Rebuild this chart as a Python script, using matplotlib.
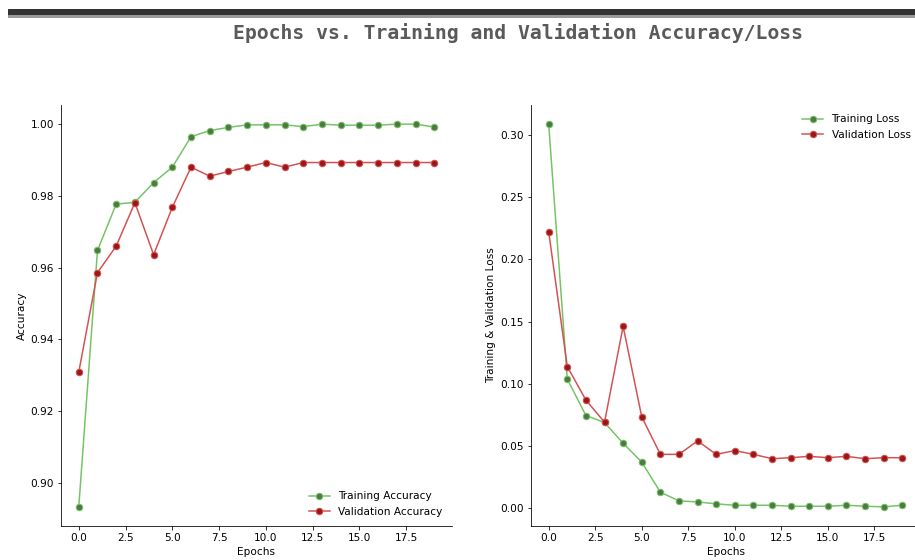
import matplotlib.pyplot as plt
import matplotlib.patches as patches
import numpy as np

# values
epochs = list(range(20))
train_acc = [0.8933, 0.9648, 0.9777, 0.9782, 0.9837, 0.9880, 0.9965, 0.9982, 0.9991, 0.9998,
             0.9998, 0.9998, 0.9993, 1.0000, 0.9997, 0.9997, 0.9997, 1.0000, 1.0000, 0.9992]
val_acc = [0.9309, 0.9586, 0.9660, 0.9781, 0.9636, 0.9768, 0.9880, 0.9855, 0.9868, 0.9880,
           0.9893, 0.9880, 0.9893, 0.9893, 0.9893, 0.9893, 0.9893, 0.9893, 0.9893, 0.9893]
train_loss = [0.3086, 0.1038, 0.0745, 0.0689, 0.0522, 0.0371, 0.0129, 0.0059, 0.0051, 0.0035,
              0.0024, 0.0024, 0.0024, 0.0016, 0.0016, 0.0016, 0.0024, 0.0016, 0.0011, 0.0024]
val_loss = [0.2222, 0.1138, 0.0869, 0.0691, 0.1461, 0.0734, 0.0433, 0.0433, 0.0541, 0.0433,
            0.0463, 0.0433, 0.0398, 0.0406, 0.0417, 0.0406, 0.0417, 0.0398, 0.0406, 0.0406]

colors_dark = ['#1F1F1F', '#313131', '#636363', '#AEAEAE', '#DADADA']
colors_red = ['#331313', '#582626', '#9E1717', '#D35151', '#E9B4B4']
colors_green = ['#01411C', '#4B6F44', '#4F7942', '#74C365', '#D0F0C0']

plt.rcParams['font.size'] = 10.5

fig = plt.figure(figsize=(915 / 72, 560 / 72), dpi=72)

# dark strip at the very top (left over from the notebook cell above)
fig.patches.append(patches.Rectangle((8 / 915, 1 - 15 / 560), 907 / 915, 6 / 560,
                                     transform=fig.transFigure, color='#333333', zorder=5))
fig.patches.append(patches.Rectangle((8 / 915, 1 - 16.5 / 560), 907 / 915, 1.5 / 560,
                                     transform=fig.transFigure, color='#9a9a9a', zorder=5))

fig.text(233 / 915, 1 - 33 / 560, 'Epochs vs. Training and Validation Accuracy/Loss',
         size=19.8, fontweight='bold', fontname='DejaVu Sans Mono', color=colors_dark[1],
         alpha=0.8, va='center', ha='left')

ax0 = fig.add_axes([61 / 915, 34 / 560, 391 / 915, 421 / 560])
ax1 = fig.add_axes([531 / 915, 34 / 560, 389 / 915, 421 / 560])

ax0.plot(epochs, train_acc, marker='o', markersize=6.5, markerfacecolor=colors_green[2],
         color=colors_green[3], label='Training Accuracy')
ax0.plot(epochs, val_acc, marker='o', markersize=6.5, markerfacecolor=colors_red[2],
         color=colors_red[3], label='Validation Accuracy')
ax0.legend(frameon=False, loc='lower right')
ax0.set_xlabel('Epochs')
ax0.set_ylabel('Accuracy')

ax1.plot(epochs, train_loss, marker='o', markersize=6.5, markerfacecolor=colors_green[2],
         color=colors_green[3], label='Training Loss')
ax1.plot(epochs, val_loss, marker='o', markersize=6.5, markerfacecolor=colors_red[2],
         color=colors_red[3], label='Validation Loss')
ax1.legend(frameon=False, loc='upper right')
ax1.set_xlabel('Epochs')
ax1.set_ylabel('Training & Validation Loss')

for ax in [ax0, ax1]:
    ax.spines['top'].set_visible(False)
    ax.spines['right'].set_visible(False)

fig.savefig('out.png', dpi=72)
